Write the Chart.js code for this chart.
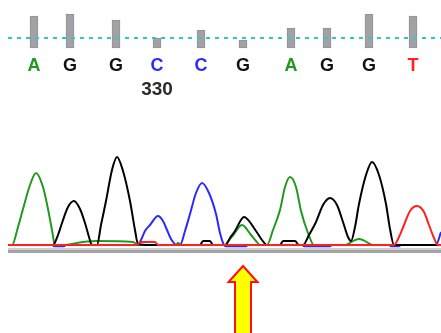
<!DOCTYPE html>
<html>
<head>
<meta charset="utf-8">
<script src="https://cdn.jsdelivr.net/npm/chart.js@4/dist/chart.umd.min.js"></script>
<style>
html,body{margin:0;padding:0;background:#fff;}
#c{display:block;}
</style>
</head>
<body>
<canvas id="c" width="441" height="333"></canvas>
<script>
// Base calls (position in scan units, called base, quality)
const basePos = [34, 70, 116, 157, 201, 243, 291, 327, 369, 413];
const baseCall = ['A', 'G', 'G', 'C', 'C', 'G', 'A', 'G', 'G', 'T'];
const baseQual = [64, 68, 56, 20, 36, 16, 40, 40, 68, 64];
const qualThreshold = 20;
// Position number label
const tickBaseIndex = [3];
const tickLabel = ['330'];
// Highlighted (arrow) base index
const markedBase = 5;

// Trace channels: [scan, signal]
const traceA = [[8,0],[12,0],[18,18],[23,36],[30,60],[36,72],[43,58],[48,36],[52,15],[55,0],[62,0],[83,3],[97,4],[133,3],[138,0],[176,0],[178,2],[181,0],[225,0],[230,6],[234,11],[242,20],[251,10],[256,4],[260,0],[267,0],[273,15],[280,35],[285,58],[290,68],[296,58],[301,34],[308,12],[314,0],[344,0],[359,6],[374,0],[441,0]];
const traceG = [[8,0],[53,0],[58,10],[62,22],[68,38],[74,44],[80,36],[85,22],[89,8],[92,0],[97,0],[101,20],[106,44],[112,75],[117,88],[123,74],[130,44],[135,15],[138,1],[150,0],[200,0],[203,4],[210,4],[213,0],[225,0],[230,7],[235,14],[244,28],[256,14],[262,5],[267,0],[280,0],[283,4],[295,4],[299,0],[303,0],[309,10],[316,23],[323,40],[330,47],[337,40],[343,23],[348,8],[351,4],[355,18],[359,41],[366,70],[372,83],[379,70],[386,41],[390,16],[394,0],[441,0]];
const traceC = [[8,0],[52,0],[54,-1.2],[64,-1.2],[66,0],[138,0],[141,5],[145,14],[150,20],[158,29],[163,24],[167,15],[171,6],[177,0],[180,0],[185,14],[190,31],[196,52],[202,62],[209,52],[216,31],[220,12],[224,0],[226,-1.2],[246,-1.2],[248,0],[302,0],[304,-1.2],[330,-1.2],[332,0],[389,0],[391,-1.2],[399,-1.2],[401,0],[436,0],[441,13]];
const traceT = [[8,0],[137,0],[140,3],[155,3],[158,0],[394,0],[399,8],[404,20],[410,34],[417,39],[424,33],[429,20],[434,7],[438,0],[441,0]];

const toXY = arr => arr.map(p => ({x: p[0], y: p[1] * 10}));

const overlay = {
  id: 'overlay',
  afterDatasetsDraw(chart) {
    const ctx = chart.ctx;
    const xs = chart.scales.x;
    const colors = {A: '#1f9a1f', C: '#2a2aff', G: '#111111', T: '#ff2020'};
    ctx.save();
    // base letters
    ctx.font = 'bold 18px "Liberation Sans", Arial, sans-serif';
    ctx.textAlign = 'center';
    ctx.textBaseline = 'middle';
    basePos.forEach((p, i) => {
      ctx.fillStyle = colors[baseCall[i]];
      ctx.fillText(baseCall[i], xs.getPixelForValue(p), 66);
    });
    // position numbers
    ctx.font = 'bold 19px "Liberation Sans", Arial, sans-serif';
    ctx.fillStyle = '#2a2a2a';
    tickBaseIndex.forEach((bi, i) => {
      ctx.fillText(tickLabel[i], xs.getPixelForValue(basePos[bi]), 90);
    });
    // baseline axis band
    const x0 = xs.getPixelForValue(8), x1 = xs.getPixelForValue(441);
    ctx.fillStyle = '#cfcfcf';
    ctx.fillRect(x0, 248, x1 - x0, 2);
    ctx.fillStyle = '#a3a3a3';
    ctx.fillRect(x0, 250, x1 - x0, 3);
    // arrow under marked base
    const ax = xs.getPixelForValue(basePos[markedBase]);
    ctx.beginPath();
    ctx.moveTo(ax, 266);
    ctx.lineTo(ax + 14.5, 282);
    ctx.lineTo(ax + 8, 282);
    ctx.lineTo(ax + 8, 340);
    ctx.lineTo(ax - 8, 340);
    ctx.lineTo(ax - 8, 282);
    ctx.lineTo(ax - 14.5, 282);
    ctx.closePath();
    ctx.fillStyle = '#ffff00';
    ctx.fill();
    ctx.strokeStyle = '#ff1010';
    ctx.lineWidth = 2;
    ctx.lineJoin = 'miter';
    ctx.stroke();
    ctx.restore();
  }
};

const traceDs = (label, arr, color) => ({
  type: 'line', label, data: toXY(arr), yAxisID: 'y', xAxisID: 'x',
  borderColor: color, borderWidth: 2, pointRadius: 0, fill: false,
  cubicInterpolationMode: 'monotone'
});

new Chart(document.getElementById('c'), {
  type: 'line',
  data: {
    datasets: [
      traceDs('T', traceT, '#ff2020'),
      traceDs('G', traceG, '#000000'),
      traceDs('C', traceC, '#2a2aff'),
      traceDs('A', traceA, '#1f9a1f'),
      {
        type: 'line', label: 'threshold', yAxisID: 'yq', xAxisID: 'x',
        data: [{x: 8, y: qualThreshold}, {x: 441, y: qualThreshold}],
        borderColor: '#2ec8c8', borderWidth: 2, borderDash: [4, 5], pointRadius: 0, fill: false
      },
      {
        type: 'bar', label: 'quality', yAxisID: 'yq', xAxisID: 'x',
        data: basePos.map((p, i) => ({x: p, y: baseQual[i]})),
        backgroundColor: '#a2a2a6', borderColor: '#929296', borderWidth: 1,
        barThickness: 8, borderSkipped: false
      }
    ]
  },
  options: {
    responsive: false,
    animation: false,
    layout: {padding: 0},
    plugins: {legend: {display: false}, tooltip: {enabled: false}},
    scales: {
      x: {type: 'linear', min: 0, max: 441, display: false, offset: false},
      y: {type: 'linear', min: -880, max: 2450, display: false},
      yq: {type: 'linear', min: -570, max: 96, display: false}
    }
  },
  plugins: [overlay]
});
</script>
</body>
</html>
